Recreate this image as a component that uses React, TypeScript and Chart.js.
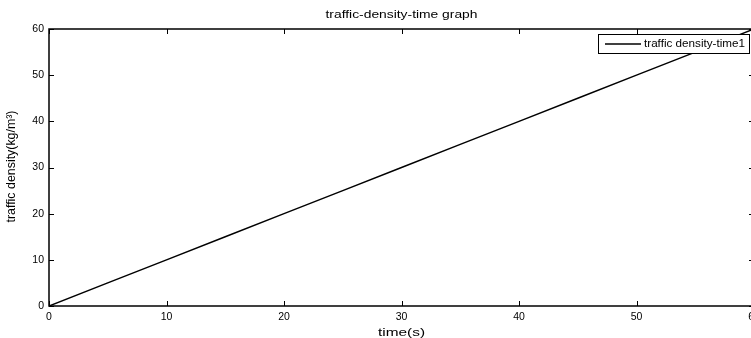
import React, { useEffect, useRef } from "react";
import { Chart, registerables } from "chart.js";

Chart.register(...registerables);

const timeValues = [0, 5, 10, 15, 20, 25, 30, 35, 40, 45, 50, 55, 60];
const densityValues = [0, 5, 10, 15, 20, 25, 30, 35, 40, 45, 50, 55, 60];
const xTicks = [0, 10, 20, 30, 40, 50, 60];
const yTicks = [0, 10, 20, 30, 40, 50, 60];
const chartTitle = "traffic-density-time graph";
const xTitle = "time(s)";
const yTitle = "traffic density(kg/m³)";
const seriesName = "traffic density-time1";

const FONT = "'Liberation Sans', Arial, Helvetica, sans-serif";

function drawFit(ctx: any, text: string, x: number, y: number, size: number, target: number, rot = 0, align = "center") {
  ctx.save();
  ctx.font = `${size}px ${FONT}`;
  ctx.textAlign = align;
  ctx.textBaseline = "middle";
  ctx.fillStyle = "#000";
  const w = ctx.measureText(text).width;
  ctx.translate(x, y);
  if (rot) ctx.rotate(rot);
  ctx.scale(target / w, 1);
  ctx.fillText(text, 0, 0);
  ctx.restore();
}

const matlabPlugin = {
  id: "matlabAxes",
  afterDraw(chart: any) {
    const ctx = chart.ctx;
    const a = chart.chartArea;
    const xs = chart.scales.x;
    const ys = chart.scales.y;
    ctx.save();
    // box
    ctx.strokeStyle = "#000";
    ctx.lineWidth = 1.5;
    ctx.strokeRect(a.left, a.top, a.right - a.left, a.bottom - a.top);
    // inward ticks
    ctx.lineWidth = 1;
    const tl = 5;
    ctx.beginPath();
    xTicks.forEach((v) => {
      const px = Math.round(xs.getPixelForValue(v)) + 0.5;
      ctx.moveTo(px, a.bottom);
      ctx.lineTo(px, a.bottom - tl);
      ctx.moveTo(px, a.top);
      ctx.lineTo(px, a.top + tl);
    });
    yTicks.forEach((v) => {
      const py = Math.round(ys.getPixelForValue(v)) + 0.5;
      ctx.moveTo(a.left, py);
      ctx.lineTo(a.left + tl, py);
      ctx.moveTo(a.right, py);
      ctx.lineTo(a.right - tl, py);
    });
    ctx.stroke();
    ctx.restore();
    const cx = (a.left + a.right) / 2;
    // titles
    drawFit(ctx, chartTitle, cx, 15, 11.5, 152);
    drawFit(ctx, xTitle, cx, 332.5, 11.5, 47);
    drawFit(ctx, yTitle, 12, (a.top + a.bottom) / 2 - 1, 12, 112, -Math.PI / 2);
    // legend
    ctx.save();
    const lx = 598, ly = 34, lw = 151, lh = 19;
    ctx.fillStyle = "#fff";
    ctx.fillRect(lx, ly, lw, lh);
    ctx.strokeStyle = "#000";
    ctx.lineWidth = 1;
    ctx.strokeRect(lx + 0.5, ly + 0.5, lw, lh);
    ctx.lineWidth = 1.5;
    ctx.beginPath();
    ctx.moveTo(605, ly + lh / 2 + 0.5);
    ctx.lineTo(641, ly + lh / 2 + 0.5);
    ctx.stroke();
    ctx.restore();
    drawFit(ctx, seriesName, 644, ly + lh / 2 + 1, 10.5, 101, 0, "left");
  },
};

export default function App() {
  const ref = useRef<HTMLCanvasElement | null>(null);
  useEffect(() => {
    if (!ref.current) return;
    const chart = new Chart(ref.current, {
      type: "line",
      data: {
        datasets: [
          {
            label: seriesName,
            data: timeValues.map((t, i) => ({ x: t, y: densityValues[i] })),
            borderColor: "#000",
            borderWidth: 1.5,
            pointRadius: 0,
            fill: false,
            tension: 0,
          },
        ],
      },
      options: {
        responsive: false,
        animation: false,
        devicePixelRatio: 1,
        layout: { padding: { left: 0, right: 16, top: 29, bottom: 0 } },
        plugins: { legend: { display: false }, title: { display: false }, tooltip: { enabled: false } },
        scales: {
          x: {
            type: "linear",
            min: 0,
            max: 60,
            afterFit: (s: any) => { s.height = 32; },
            afterBuildTicks: (s: any) => { s.ticks = xTicks.map((v) => ({ value: v })); },
            grid: { display: false, drawTicks: false },
            border: { display: false },
            ticks: { padding: 5, color: "#000", font: { family: FONT, size: 10.5 }, maxRotation: 0 },
          },
          y: {
            type: "linear",
            min: 0,
            max: 60,
            afterFit: (s: any) => { s.width = 49; },
            afterBuildTicks: (s: any) => { s.ticks = yTicks.map((v) => ({ value: v })); },
            grid: { display: false, drawTicks: false },
            border: { display: false },
            ticks: { padding: 5, color: "#000", font: { family: FONT, size: 10.5 } },
          },
        },
      },
      plugins: [matlabPlugin],
    } as any);
    return () => chart.destroy();
  }, []);
  return (
    <div style={{ position: "fixed", left: 0, top: 0, width: 751, height: 338, overflow: "hidden", background: "#fff" }}>
      <canvas ref={ref} width={770} height={338} style={{ display: "block", width: 770, height: 338 }} />
    </div>
  );
}
